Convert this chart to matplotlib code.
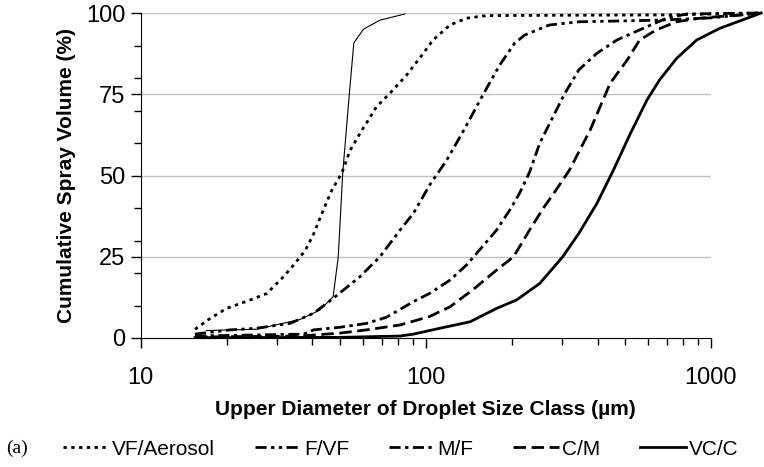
import matplotlib
matplotlib.use('Agg')
import matplotlib.pyplot as plt

plt.rcParams['font.family'] = ['Liberation Sans', 'DejaVu Sans']

# (droplet diameter in um, cumulative volume in %)
vf_x = [15.5, 17.5, 20, 24.2, 27.7, 31.7, 34.8, 37.8, 40.4, 43.7, 46.8, 50.7, 54.3,
        58.8, 67.2, 74.8, 85.8, 98, 106, 121.5, 139, 163, 300, 700, 1500]
vf_y = [2.7, 6, 9.1, 11.7, 13.7, 18.9, 23, 27, 32, 39.4, 45.5, 50.7, 57.8,
        63, 71.2, 75.3, 81, 87.6, 91.7, 96.3, 98.4, 99.2, 99.3, 99.4, 100]

ref_x = [17, 25.5, 36.2, 42.5, 47.3, 49.3, 51.1, 53.9, 55.9, 60.4, 69, 84.5]
ref_y = [2.3, 2.7, 5.7, 8.6, 12.7, 25, 50.7, 75, 90.8, 95, 97.8, 99.7]

fvf_x = [15.5, 20.6, 25.5, 33.4, 40.4, 47.3, 58.8, 69, 81.2, 90.5, 103, 118.5, 137,
         158.5, 181.6, 204.8, 222, 271, 344, 660, 1000, 1500]
fvf_y = [1.2, 2.5, 3, 4.5, 7.6, 12.2, 18.9, 25, 33.2, 38.4, 47, 54.8, 64.5,
         74.8, 84, 90.7, 93.2, 96.3, 97.3, 97.8, 98.5, 100]

mf_x = [15.5, 37.3, 40.4, 50, 62, 72.8, 90.5, 103, 121.5, 139, 154, 177, 197, 213,
        231, 251, 306, 344, 398, 468, 562, 698, 822, 1500]
mf_y = [0.6, 1.2, 2.5, 3.3, 4.5, 6.4, 11.2, 13.7, 17.8, 22.5, 27, 33.2, 39.4, 44.5,
        51, 60, 75, 82.5, 87.6, 91.7, 94.8, 98.4, 99.7, 100]

cm_x = [15.5, 36.2, 50, 62, 81.2, 103, 121.5, 146, 177, 203, 231, 258, 286, 319,
        377, 443, 508, 562, 643, 757, 916, 1500]
cm_y = [0.3, 0.6, 1.5, 2.5, 4, 6.6, 9.6, 14.8, 20.9, 25, 33.2, 39.9, 45.5, 51.7,
        64, 78.4, 85.5, 91.7, 94.8, 97.3, 98.4, 100]

vc_x = [15.5, 50, 81.2, 90.5, 112, 143, 177, 208, 251, 302, 344, 398, 455, 522,
        596, 660, 757, 891, 1075, 1500]
vc_y = [0.1, 0.2, 0.6, 1.2, 3, 5, 9.1, 11.7, 16.8, 25, 32.2, 41.4, 51.7, 63,
        73.2, 79.4, 86, 91.7, 95.3, 100]

yticks = [0, 25, 50, 75, 100]
xticks = [10, 100, 1000]

fig = plt.figure(figsize=(7.64, 4.67), dpi=100)
ax = fig.add_axes([140.7 / 764, 129 / 467, 570.3 / 764, 325 / 467])

for y in yticks[1:]:
    ax.axhline(y, color='#c0c0c0', lw=1, zorder=0)

lw = 2.0
ax.plot(vf_x, vf_y, color='black', lw=lw, dashes=(1.2, 1.6), clip_on=False, label='VF/Aerosol')
ax.plot(fvf_x, fvf_y, color='black', lw=lw, dashes=(4, 1.6, 1.2, 1.6, 1.2, 1.6), clip_on=False, label='F/VF')
ax.plot(mf_x, mf_y, color='black', lw=lw, dashes=(4, 1.6, 1.2, 1.6), clip_on=False, label='M/F')
ax.plot(cm_x, cm_y, color='black', lw=lw, dashes=(4.5, 2), clip_on=False, label='C/M')
ax.plot(vc_x, vc_y, color='black', lw=lw, clip_on=False, label='VC/C')
ax.plot(ref_x, ref_y, color='black', lw=0.8, clip_on=False)

ax.set_xscale('log')
ax.set_xlim(10, 1000)
ax.set_ylim(0, 100)
ax.set_xticks(xticks)
ax.set_xticklabels([str(t) for t in xticks])
ax.set_yticks(yticks)
ax.set_yticks(range(0, 101, 10), minor=True)
ax.tick_params(axis='both', which='major', labelsize=17, length=7, width=1, direction='out')
ax.tick_params(axis='both', which='minor', length=5, width=1, direction='out')
ax.tick_params(axis='x', pad=14)
ax.tick_params(axis='y', pad=4)
for s in ['top', 'right']:
    ax.spines[s].set_visible(False)

ax.set_xlabel('Upper Diameter of Droplet Size Class (µm)', fontsize=15, fontweight='bold', labelpad=8)
ax.set_ylabel('Cumulative Spray Volume (%)', fontsize=15, fontweight='bold', labelpad=7)

fig.legend(loc='lower left', bbox_to_anchor=(55 / 764, 0), ncol=5, frameon=False,
           fontsize=15, handlelength=2.2, handletextpad=0.15, columnspacing=1.9,
           borderaxespad=0.1, borderpad=0.3)
fig.text(6 / 764, 19 / 467, '(a)', fontsize=14, family=['Liberation Serif', 'DejaVu Serif'],
         va='center')

fig.savefig('out.png', dpi=100)
